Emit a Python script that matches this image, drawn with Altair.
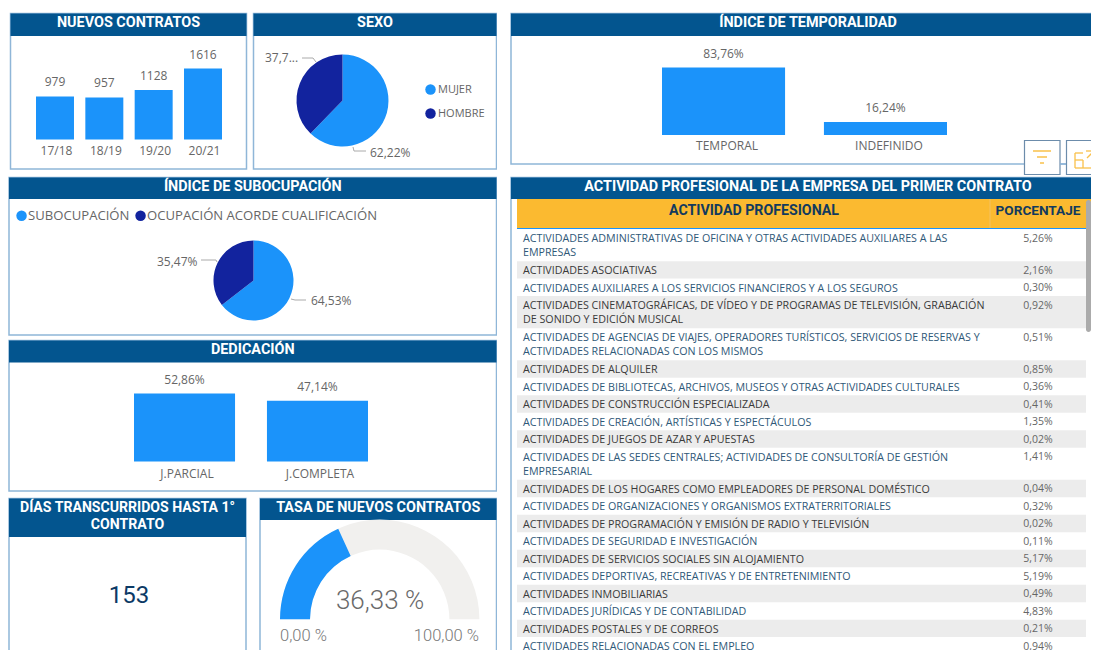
import math
import altair as alt
import pandas as pd

BLUE = "#1B93FA"
NAVY = "#12239E"
HEADER = "#03558F"
BORDER = "#8FB6D8"
GREY_TXT = "#666666"
LEADER = "#AAAAAA"
TITLE_FONT = "Roboto"
BODY_FONT = "Open Sans"

contract_years = ["17/18", "18/19", "19/20", "20/21"]
contract_values = [979, 957, 1128, 1616]
sex_cats = ["MUJER", "HOMBRE"]
sex_values = [62.22, 37.78]
sex_labels = ["62,22%", "37,7..."]
sub_cats = ["SUBOCUPACIÓN", "OCUPACIÓN ACORDE CUALIFICACIÓN"]
sub_values = [64.53, 35.47]
sub_labels = ["64,53%", "35,47%"]
ded_cats = ["J.PARCIAL", "J.COMPLETA"]
ded_values = [52.86, 47.14]
temp_cats = ["TEMPORAL", "INDEFINIDO"]
temp_values = [83.76, 16.24]
days_value = "153"
rate_value = 36.33
rate_text = "36,33 %"
rate_min = "0,00 %"
rate_max = "100,00 %"
table_headers = ["ACTIVIDAD PROFESIONAL", "PORCENTAJE"]
activities = [
    "ACTIVIDADES ADMINISTRATIVAS DE OFICINA Y OTRAS ACTIVIDADES AUXILIARES A LAS\nEMPRESAS",
    "ACTIVIDADES ASOCIATIVAS",
    "ACTIVIDADES AUXILIARES A LOS SERVICIOS FINANCIEROS Y A LOS SEGUROS",
    "ACTIVIDADES CINEMATOGRÁFICAS, DE VÍDEO Y DE PROGRAMAS DE TELEVISIÓN, GRABACIÓN\nDE SONIDO Y EDICIÓN MUSICAL",
    "ACTIVIDADES DE AGENCIAS DE VIAJES, OPERADORES TURÍSTICOS, SERVICIOS DE RESERVAS Y\nACTIVIDADES RELACIONADAS CON LOS MISMOS",
    "ACTIVIDADES DE ALQUILER",
    "ACTIVIDADES DE BIBLIOTECAS, ARCHIVOS, MUSEOS Y OTRAS ACTIVIDADES CULTURALES",
    "ACTIVIDADES DE CONSTRUCCIÓN ESPECIALIZADA",
    "ACTIVIDADES DE CREACIÓN, ARTÍSTICAS Y ESPECTÁCULOS",
    "ACTIVIDADES DE JUEGOS DE AZAR Y APUESTAS",
    "ACTIVIDADES DE LAS SEDES CENTRALES; ACTIVIDADES DE CONSULTORÍA DE GESTIÓN\nEMPRESARIAL",
    "ACTIVIDADES DE LOS HOGARES COMO EMPLEADORES DE PERSONAL DOMÉSTICO",
    "ACTIVIDADES DE ORGANIZACIONES Y ORGANISMOS EXTRATERRITORIALES",
    "ACTIVIDADES DE PROGRAMACIÓN Y EMISIÓN DE RADIO Y TELEVISIÓN",
    "ACTIVIDADES DE SEGURIDAD E INVESTIGACIÓN",
    "ACTIVIDADES DE SERVICIOS SOCIALES SIN ALOJAMIENTO",
    "ACTIVIDADES DEPORTIVAS, RECREATIVAS Y DE ENTRETENIMIENTO",
    "ACTIVIDADES INMOBILIARIAS",
    "ACTIVIDADES JURÍDICAS Y DE CONTABILIDAD",
    "ACTIVIDADES POSTALES Y DE CORREOS",
    "ACTIVIDADES RELACIONADAS CON EL EMPLEO",
]
activity_pct = [5.26, 2.16, 0.30, 0.92, 0.51, 0.85, 0.36, 0.41, 1.35, 0.02, 1.41,
                0.04, 0.32, 0.02, 0.11, 5.17, 5.19, 0.49, 4.83, 0.21, 0.94]

ONE = alt.Data(values=[{"a": 1}])


def pct(v):
    return f"{v:.2f}".replace(".", ",") + "%"


class Cell:
    """One dashboard tile; helpers take page pixels and convert to the view's own."""

    def __init__(self, ox, oy, w, h):
        self.ox, self.oy, self.w, self.h = ox, oy, w, h
        self.layers = []

    def X(self, x):
        return alt.value(x - self.ox)

    def Y(self, y):
        return alt.value(y - self.oy)

    def rect(self, x0, y0, x1, y1, **mark):
        self.layers.append(alt.Chart(ONE).mark_rect(clip=True, **mark).encode(
            x=self.X(x0), x2=self.X(x1), y=self.Y(y0), y2=self.Y(y1)))

    def rule(self, x0, y0, x1, y1, color=LEADER, width=1):
        self.layers.append(alt.Chart(ONE).mark_rule(color=color, strokeWidth=width, clip=True).encode(
            x=self.X(x0), x2=self.X(x1), y=self.Y(y0), y2=self.Y(y1)))

    def text(self, s, x, y, size=12, color=GREY_TXT, font=BODY_FONT, align="center", weight="normal"):
        self.layers.append(alt.Chart(ONE).mark_text(
            font=font, fontSize=size, color=color, align=align, baseline="middle", fontWeight=weight
        ).encode(x=self.X(x), y=self.Y(y), text=alt.value(s)))

    def frame(self, x0, y0, x1, y1, hdr_bottom, title_lines, title_size=14.4, line_h=17):
        self.rect(x0, y0, x1, y1, fill="white", stroke=BORDER, strokeWidth=1.5)
        self.rect(x0, y0, x1, hdr_bottom, fill=HEADER)
        cy = y0 + 9.5
        for line in title_lines:
            self.text(line, (x0 + x1) / 2, cy, size=title_size, color="white", font=TITLE_FONT, weight="bold")
            cy += line_h

    def bars(self, cats, values, labels, x0, x1, y_base, y_top, inner, label_gap, cat_y, cat_dx=0):
        df = pd.DataFrame({"cat": cats, "value": values, "label": labels})
        xs = alt.X("cat:N", axis=None, sort=cats, scale=alt.Scale(
            domain=cats, range=[x0 - self.ox, x1 - self.ox], paddingInner=inner, paddingOuter=0))
        ys = alt.Y("value:Q", axis=None, scale=alt.Scale(
            domain=[0, max(values)], range=[y_base - self.oy, y_top - self.oy], nice=False))
        base = alt.Chart(df)
        self.layers.append(base.mark_bar(color=BLUE).encode(x=xs, y=ys))
        self.layers.append(base.mark_text(font=BODY_FONT, fontSize=12, color=GREY_TXT, dy=-label_gap).encode(
            x=xs, y=ys, text="label:N"))
        self.layers.append(base.mark_text(font=BODY_FONT, fontSize=12, color=GREY_TXT, dx=cat_dx).encode(
            x=xs, y=self.Y(cat_y), text="cat:N"))

    def pie(self, cats, values, cx, cy, r, legend):
        df = pd.DataFrame({"cat": cats, "value": values, "i": range(len(cats))})
        self.layers.append(alt.Chart(df).mark_arc(radius=r).encode(
            theta=alt.Theta("value:Q", stack=True),
            order=alt.Order("i:O"),
            color=alt.Color("cat:N", sort=cats, scale=alt.Scale(domain=cats, range=[BLUE, NAVY]), legend=legend),
            x=self.X(cx), y=self.Y(cy)))

    def chart(self):
        return alt.layer(*self.layers).resolve_scale(color="independent").properties(width=self.w, height=self.h)


# ---- left column -----------------------------------------------------------
c1 = Cell(8, 8, 244, 165)
c1.frame(10.5, 13.5, 246.5, 169, 36, ["NUEVOS CONTRATOS"])
c1.bars(contract_years, contract_values, [str(v) for v in contract_values], 36, 222, 139.5, 68.5, 0.23, 14, 151, 1.5)

c2 = Cell(252, 8, 245, 165)
c2.frame(253.5, 13.5, 496.5, 169, 36, ["SEXO"])
c2.pie(sex_cats, sex_values, 342.5, 100.5, 46, alt.Legend(
    orient="none", legendX=425 - 252, legendY=84 - 8, title=None, symbolType="circle", symbolSize=110,
    symbolStrokeWidth=0, labelFont=BODY_FONT, labelFontSize=11, labelColor=GREY_TXT, rowPadding=12, labelOffset=2))
c2.rule(302, 58, 313, 58)
c2.rule(313, 58, 316, 62)
c2.text(sex_labels[1], 265, 58, align="left")
c2.rule(353, 147, 354, 151)
c2.rule(354, 151, 366, 151)
c2.text(sex_labels[0], 370, 152.5, align="left")

c3 = Cell(8, 173, 489, 165)
c3.frame(9, 177.5, 496.5, 335, 199, ["ÍNDICE DE SUBOCUPACIÓN"])
c3.pie(sub_cats, sub_values, 253.5, 280.5, 40, alt.Legend(
    orient="none", legendX=7, legendY=209 - 173, direction="horizontal", title=None, symbolType="circle",
    symbolSize=110, symbolStrokeWidth=0, labelFont=BODY_FONT, labelFontSize=13.1, labelColor=GREY_TXT,
    columnPadding=4, labelOffset=0, labelLimit=300))
c3.rule(201, 260, 216, 260)
c3.rule(216, 260, 217, 262)
c3.text(sub_labels[1], 157, 261.5, align="left")
c3.rule(291, 299, 295, 300)
c3.rule(295, 300, 306, 300)
c3.text(sub_labels[0], 311, 300.5, align="left")

c4 = Cell(8, 338, 489, 157)
c4.frame(9, 340.5, 496.5, 491, 362.5, ["DEDICACIÓN"])
c4.bars(ded_cats, ded_values, [pct(v) for v in ded_values], 134, 368, 461.5, 393.5, 0.24, 13.5, 473.5, 2.5)

c5 = Cell(8, 495, 244, 155)
c5.frame(9, 498.5, 246, 670, 537, ["DÍAS TRANSCURRIDOS HASTA 1°", "CONTRATO"], title_size=14.1)
c5.text(days_value, 129, 595.5, size=24, color="#0C3A66", font=TITLE_FONT)

c6 = Cell(252, 495, 245, 155)
c6.frame(260, 498.5, 496.5, 670, 520, ["TASA DE NUEVOS CONTRATOS"])
gauge = pd.DataFrame({"part": ["track", "value"], "start": [0, 0], "end": [100, rate_value]})
th = alt.Scale(domain=[0, 100], range=[-math.pi / 2, math.pi / 2])
for part, col in (("track", "#F1F0EE"), ("value", BLUE)):
    c6.layers.append(alt.Chart(gauge[gauge.part == part]).mark_arc(radius=99.7, radius2=69.7, color=col).encode(
        theta=alt.Theta("start:Q", scale=th), theta2="end:Q", x=c6.X(379.7), y=c6.Y(619.3)))
c6.text(rate_text, 380, 601, size=26, font=TITLE_FONT, color="#6A6A6A", weight=300)
c6.text(rate_min, 280, 635.5, size=16.5, align="left", font=TITLE_FONT, color="#777777", weight=300)
c6.text(rate_max, 479, 635.5, size=16.5, align="right", font=TITLE_FONT, color="#777777", weight=300)

# ---- right column ----------------------------------------------------------
c7 = Cell(505, 8, 586, 168)
c7.frame(511, 13.5, 1105, 164, 36, ["ÍNDICE DE TEMPORALIDAD"])
c7.bars(temp_cats, temp_values, [pct(v) for v in temp_values], 662, 947, 135, 67.5, 0.24, 14, 146, 3.5)
# filter / expand buttons
c7.rect(1024.5, 140.5, 1060, 174.5, fill="white", stroke="#6C8CAB", strokeWidth=1.2)
c7.rect(1066.5, 140.5, 1105, 174.5, fill="white", stroke="#6C8CAB", strokeWidth=1.2)
c7.rule(1060, 164, 1066, 164, color=BORDER, width=1.5)
ORANGE = "#F9C04A"
c7.rule(1033, 151, 1051, 151, color=ORANGE, width=1.5)
c7.rule(1037, 157, 1047, 157, color=ORANGE, width=1.5)
c7.rule(1040, 163, 1044, 163, color=ORANGE, width=1.5)
for seg in [(1075, 153, 1083, 153), (1075, 153, 1075, 168), (1075, 168, 1093, 168), (1093, 168, 1093, 160),
            (1075, 160, 1083, 160), (1083, 160, 1083, 168), (1086, 151, 1094, 151), (1094, 151, 1094, 158),
            (1087, 158, 1094, 151)]:
    c7.rule(*seg, color=ORANGE, width=1.3)

c8 = Cell(505, 176, 586, 474)
c8.frame(511, 177.5, 1105, 700, 199, ["ACTIVIDAD PROFESIONAL DE LA EMPRESA DEL PRIMER CONTRATO"])
c8.rect(517, 199, 1091, 228, fill="#FBBA30")
c8.rule(990, 199, 990, 228, color="#F4C263")
c8.rule(517, 228.5, 1091, 228.5, color=BLUE, width=1.2)
c8.text(table_headers[0], 754, 211, size=14.2, color="#123A5E", font=TITLE_FONT, weight="bold")
c8.text(table_headers[1], 1038, 211, size=13.6, color="#123A5E", font=TITLE_FONT, weight="bold")

UNIT_TWO = 1.84
units = [UNIT_TWO if "\n" in a else 1.0 for a in activities]
tops, t = [], 0.0
for u in units:
    tops.append(t)
    t += u
rows = pd.DataFrame({"label": activities, "pct": [pct(v) for v in activity_pct],
                     "y0": tops, "y1": [a + b for a, b in zip(tops, units)], "i": range(len(activities))})
row_px = 17.47
y_scale = alt.Scale(domain=[0, t], range=[229 - 176, 229 - 176 + row_px * t], nice=False)
row_base = alt.Chart(rows)
row_y = alt.Y("y0:Q", axis=None, scale=y_scale)
c8.layers.append(row_base.transform_filter("datum.i % 2 == 1").mark_rect(color="#ECECEC", clip=True).encode(
    x=c8.X(517), x2=c8.X(1086), y=row_y, y2="y1:Q"))
row_color = alt.condition("datum.i % 2 == 1", alt.value("#3A3A3A"), alt.value("#2F5878"))
c8.layers.append(row_base.mark_text(font=BODY_FONT, fontSize=10.7, align="left", baseline="top", lineBreak="\n",
                                    lineHeight=14, dy=5, clip=True).encode(
    x=c8.X(523), y=row_y, text="label:N", color=row_color))
c8.layers.append(row_base.mark_text(font=BODY_FONT, fontSize=10.5, align="center", baseline="top", dy=4.5,
                                    color=GREY_TXT, clip=True).encode(
    x=c8.X(1038), y=row_y, text="pct:N"))
c8.rect(1086, 200, 1091, 332, fill="#ABABAB", cornerRadius=2.5)

left = alt.vconcat(
    alt.hconcat(c1.chart(), c2.chart(), spacing=0),
    c3.chart(), c4.chart(),
    alt.hconcat(c5.chart(), c6.chart(), spacing=0),
    spacing=0)
right = alt.vconcat(c7.chart(), c8.chart(), spacing=0)

chart = alt.hconcat(left, right, spacing=8).properties(padding=0).configure_view(stroke=None)
chart.save("out.html", embed_options={"renderer": "svg", "actions": False})
